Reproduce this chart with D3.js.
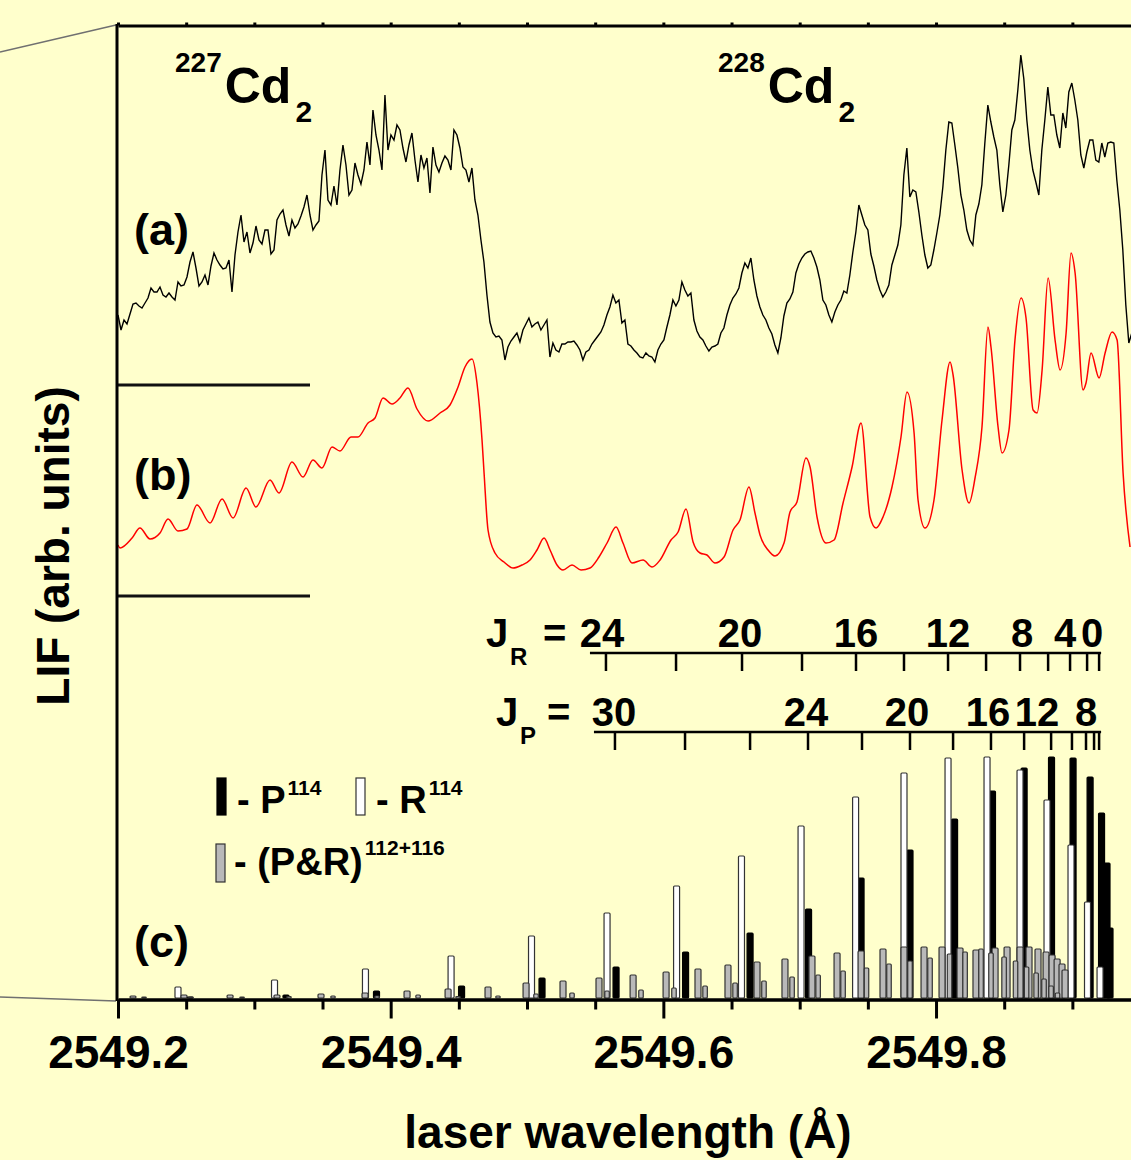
<!DOCTYPE html>
<html>
<head>
<meta charset="utf-8">
<script src="https://cdn.jsdelivr.net/npm/d3@7"></script>
<style>
  body { margin: 0; background: #ffffcc; }
  svg { display: block; font-family: "Liberation Sans", Arial, sans-serif; font-weight: bold; }
</style>
</head>
<body>
<svg id="chart" width="1131" height="1160"></svg>
<script>
// ---- data (wavelength in Å, intensities in arb. units) ----
const scanStart = 2549.2;
const scanStep = 0.0022;

// (a) measured LIF, one value per scan step, relative to its own zero line
const traceA = [
  7.0,5.5,6.5,6.1,7.1,8.1,8.2,7.9,7.7,8.2,
  8.7,9.7,9.3,9.3,9.8,9.0,8.8,9.2,8.8,8.5,
  10.3,9.9,10.0,10.8,12.3,13.3,11.7,9.9,10.3,11.0,
  10.0,11.9,13.2,12.5,12.0,11.6,11.7,12.5,9.3,13.0,
  15.3,17.0,14.3,15.3,13.2,14.2,15.9,14.5,14.1,15.5,
  15.5,13.1,13.5,16.5,17.1,17.5,16.0,14.9,16.5,15.7,
  16.1,16.9,17.8,19.0,17.0,15.5,16.0,16.4,21.0,23.5,
  18.5,18.0,19.9,18.0,21.5,24.0,22.0,19.0,19.5,22.2,
  21.0,20.1,21.5,24.3,22.0,27.5,25.0,23.5,21.5,29.0,
  23.5,25.0,24.5,26.0,25.5,23.7,22.3,24.0,25.2,22.5,
  20.3,23.0,21.7,22.7,19.2,23.8,22.0,21.3,22.2,22.9,
  22.5,21.5,25.5,25.0,23.7,21.8,21.5,20.3,21.7,18.5,
  17.0,14.5,12.3,9.0,6.3,5.2,4.8,4.9,4.5,2.5,
  3.8,4.4,4.8,5.2,4.3,5.5,6.1,6.7,5.8,6.1,
  6.3,5.5,6.0,6.5,2.8,4.2,3.5,3.3,4.1,4.1,
  4.3,4.3,4.4,4.0,3.5,2.5,3.3,3.5,4.1,4.5,
  4.9,5.3,6.0,7.0,7.8,9.0,8.2,8.5,6.2,6.5,
  4.1,3.9,3.5,3.2,2.8,2.7,3.2,2.9,2.8,2.3,
  3.5,4.1,4.5,5.8,7.0,8.5,7.9,8.5,10.3,9.5,
  8.9,9.2,6.5,5.4,4.8,4.5,3.9,3.4,3.8,3.9,
  4.1,5.2,5.7,7.0,8.0,8.7,9.1,9.7,11.2,12.2,
  11.7,12.7,10.5,8.9,7.8,7.0,6.5,5.7,5.1,4.0,
  3.2,4.7,6.9,8.2,8.6,9.3,11.2,12.1,12.7,13.1,
  13.3,13.4,12.7,11.8,10.5,8.5,8.0,7.0,6.3,7.3,
  8.0,8.5,9.4,9.2,11.0,13.3,15.3,18.0,17.0,16.0,
  15.5,13.1,11.9,10.5,9.5,8.8,9.3,10.0,12.0,13.0,
  14.0,16.0,21.0,23.7,18.8,19.5,19.3,17.3,15.0,13.0,
  11.7,12.0,13.5,15.2,17.0,19.8,23.5,26.3,26.2,24.0,
  21.7,19.0,17.5,15.5,14.5,14.0,17.0,18.1,20.0,24.2,
  28.0,26.3,24.8,23.5,20.0,17.3,19.0,22.0,25.5,26.5,
  29.5,33.0,30.6,26.5,23.5,21.5,20.3,19.0,23.5,26.5,
  29.8,27.0,27.0,25.0,23.7,27.2,25.7,29.3,30.2,28.5,
  26.5,23.0,21.7,23.3,24.5,24.5,22.5,22.3,24.2,22.8,
  24.2,24.3,24.2,20.5,17.5,13.5,8.0,4.2,5.2
];

// (b) simulated spectrum [wavelength, intensity]
const traceB = [
  [2549.2000,5.1],[2549.2015,4.8],[2549.2103,5.8],[2549.2161,6.8],[2549.2235,5.7],[2549.2308,6.3],[2549.2367,7.7],[2549.2440,6.5],[2549.2506,6.7],[2549.2579,9.1],
  [2549.2675,7.3],[2549.2763,9.7],[2549.2844,7.8],[2549.2939,10.8],[2549.3012,8.9],[2549.3115,11.6],[2549.3181,10.3],[2549.3276,13.4],[2549.3357,11.9],[2549.3430,13.6],
  [2549.3496,12.8],[2549.3570,14.9],[2549.3628,14.5],[2549.3709,15.9],[2549.3760,15.9],[2549.3834,17.3],[2549.3885,17.8],[2549.3944,19.8],[2549.4010,19.2],[2549.4068,19.8],
  [2549.4127,20.8],[2549.4193,18.7],[2549.4274,17.5],[2549.4362,18.3],[2549.4435,19.1],[2549.4494,20.9],[2549.4545,22.9],[2549.4597,23.7],[2549.4633,21.3],[2549.4670,15.6],
  [2549.4685,12.3],[2549.4714,6.6],[2549.4765,4.3],[2549.4831,3.4],[2549.4897,2.8],[2549.4963,3.1],[2549.5022,3.6],[2549.5073,4.6],[2549.5125,5.8],[2549.5169,4.6],
  [2549.5220,3.1],[2549.5264,2.6],[2549.5330,3.1],[2549.5396,2.6],[2549.5462,2.8],[2549.5528,3.9],[2549.5587,5.3],[2549.5653,6.9],[2549.5704,5.3],[2549.5770,3.3],
  [2549.5851,3.6],[2549.5917,2.9],[2549.5976,3.6],[2549.6056,5.6],[2549.6108,6.4],[2549.6166,8.7],[2549.6218,5.4],[2549.6269,4.3],[2549.6320,4.1],[2549.6379,3.3],
  [2549.6445,3.9],[2549.6511,6.6],[2549.6562,7.6],[2549.6628,10.9],[2549.6672,8.3],[2549.6709,6.1],[2549.6768,4.6],[2549.6819,4.0],[2549.6885,5.3],[2549.6929,8.4],
  [2549.6980,9.4],[2549.7046,13.8],[2549.7076,12.9],[2549.7127,7.9],[2549.7193,5.3],[2549.7252,5.6],[2549.7318,9.3],[2549.7384,12.9],[2549.7450,17.3],[2549.7516,7.9],
  [2549.7560,6.8],[2549.7611,7.9],[2549.7677,10.9],[2549.7743,15.9],[2549.7787,20.4],[2549.7839,16.3],[2549.7868,9.6],[2549.7919,6.8],[2549.7985,9.6],[2549.8044,17.6],
  [2549.8103,23.4],[2549.8125,22.1],[2549.8191,12.6],[2549.8242,9.3],[2549.8286,11.8],[2549.8337,16.9],[2549.8381,26.9],[2549.8403,24.9],[2549.8455,16.9],[2549.8484,14.3],
  [2549.8535,16.6],[2549.8579,25.6],[2549.8624,29.8],[2549.8660,27.8],[2549.8712,18.6],[2549.8741,18.3],[2549.8778,22.6],[2549.8822,31.8],[2549.8873,25.6],[2549.8910,22.6],
  [2549.8954,26.3],[2549.8990,34.3],[2549.9020,32.3],[2549.9078,20.6],[2549.9100,21.3],[2549.9137,24.3],[2549.9196,21.8],[2549.9240,24.3],[2549.9291,26.4],[2549.9328,25.6],
  [2549.9372,12.3],[2549.9423,4.9]
];

// (c) stick spectrum [wavelength, intensity]
const pLines114 = [
  [2549.2528,0.1],[2549.3232,0.3],[2549.3896,0.7],[2549.4520,1.2],[2549.5110,2.0],[2549.5653,3.1],[2549.6163,4.6],[2549.6636,6.5],[2549.7065,8.9],[2549.7450,12.0],
  [2549.7809,14.8],[2549.8136,17.9],[2549.8414,20.7],[2549.8646,23.0],[2549.8847,24.1],[2549.9005,24.0],[2549.9130,22.1],[2549.9214,18.5],[2549.9254,13.5],[2549.9276,7.0]
];
const rLines114 = [
  [2549.2440,1.1],[2549.3148,1.8],[2549.3815,2.9],[2549.4443,4.2],[2549.5033,6.2],[2549.5587,8.5],[2549.6097,11.2],[2549.6573,14.2],[2549.7010,17.2],[2549.7410,20.1],
  [2549.7765,22.5],[2549.8088,24.0],[2549.8374,24.1],[2549.8616,22.8],[2549.8814,19.8],[2549.8990,15.3],[2549.9111,9.6],[2549.9203,3.1]
];
const lines112 = [
  [2549.2110,0.2],[2549.2484,0.3],[2549.2822,0.3],[2549.3166,0.3],[2549.3489,0.4],[2549.3812,0.5],[2549.4120,0.7],[2549.4421,0.9],[2549.4714,1.1],[2549.4993,1.5],
  [2549.5264,1.7],[2549.5528,2.0],[2549.5778,2.3],[2549.6020,2.6],[2549.6254,2.9],[2549.6474,3.3],[2549.6687,3.6],[2549.6892,3.9],[2549.7090,4.2],[2549.7274,4.5],
  [2549.7450,4.7],[2549.7611,4.9],[2549.7765,5.1],[2549.7912,5.1],[2549.8044,5.1],[2549.8176,5.0],[2549.8293,4.8],[2549.8433,5.0],[2549.8521,5.1],[2549.8616,5.1],
  [2549.8682,5.1],[2549.8748,4.9],[2549.8807,4.6],[2549.8851,4.3],[2549.8888,3.9],[2549.8924,3.4],[2549.8946,2.8]
];
const lines116 = [
  [2549.2191,0.1],[2549.2535,0.1],[2549.2910,0.1],[2549.3254,0.15],[2549.3577,0.2],[2549.3900,0.2],[2549.4201,0.3],[2549.4494,0.15],[2549.4787,0.2],[2549.5066,0.4],
  [2549.5330,0.5],[2549.5587,0.7],[2549.5836,0.8],[2549.6078,1.0],[2549.6306,1.2],[2549.6526,1.5],[2549.6738,1.7],[2549.6944,2.1],[2549.7135,2.3],[2549.7318,2.7],
  [2549.7490,3.0],[2549.7655,3.4],[2549.7809,3.7],[2549.7956,4.0],[2549.8099,4.4],[2549.8213,4.6],[2549.8330,4.9],[2549.8403,4.5],[2549.8499,4.1],[2549.8583,3.7],
  [2549.8664,3.1],[2549.8734,2.5],[2549.8792,1.9],[2549.8844,1.2],[2549.8891,0.5]
];

// rotational assignment scales
const jR = [24,22,20,18,16,14,12,10,8,6,4,2,0];
const jRWave = [2549.5579,2549.6093,2549.6577,2549.7017,2549.7413,2549.7765,2549.8088,2549.8367,2549.8616,2549.8822,2549.8983,2549.9108,2549.9196];
const jRLabeled = [24,20,16,12,8,4,0];
const jP = [30,28,26,24,22,20,18,16,14,12,10,8,6,4];
const jPWave = [2549.5645,2549.6159,2549.6636,2549.7061,2549.7457,2549.7809,2549.8125,2549.8403,2549.8646,2549.8844,2549.8997,2549.9100,2549.9159,2549.9196];
const jPLabeled = [30,24,20,16,12,8];

const xMajor = [2549.2, 2549.4, 2549.6, 2549.8];
const xMinor = [2549.25, 2549.3, 2549.35, 2549.45, 2549.5, 2549.55, 2549.65, 2549.7, 2549.75, 2549.85, 2549.9];

// ---- layout ----
const offsetA = 61.3;   // zero line of trace (a)
const offsetB = 40.2;   // zero line of trace (b)
const svg = d3.select("#chart");
const x = d3.scaleLinear().domain([2549.2, 2549.943]).range([118, 1131]);
const y = d3.scaleLinear().domain([0, 97.3]).range([998, 25]);
const x0 = x.range()[0];

svg.append("rect").attr("width", 1131).attr("height", 1160).attr("fill", "#ffffcc");

// zoom lines towards the (cut) inset on the left
svg.append("line").attr("x1", 0).attr("y1", 52).attr("x2", x0 - 2).attr("y2", 25)
  .attr("stroke", "#707070").attr("stroke-width", 1.5);
svg.append("line").attr("x1", 0).attr("y1", 997).attr("x2", x0 - 2).attr("y2", 1001)
  .attr("stroke", "#707070").attr("stroke-width", 1.5);

// stick spectrum (c)
function sticks(data, w, fill, stroke) {
  svg.append("g").selectAll("rect").data(data).join("rect")
    .attr("x", d => x(d[0]) - w / 2)
    .attr("y", d => y(d[1]))
    .attr("width", w)
    .attr("height", d => y(0) - y(d[1]))
    .attr("rx", 1)
    .attr("fill", fill)
    .attr("stroke", stroke)
    .attr("stroke-width", 1.2);
}
sticks(pLines114, 6, "#000", "#000");
sticks(rLines114, 6, "#fff", "#333");
sticks(lines112, 6, "#b9b9b9", "#333");
sticks(lines116, 4.5, "#b9b9b9", "#333");

// traces
svg.append("path").datum(traceA)
  .attr("fill", "none").attr("stroke", "#000").attr("stroke-width", 1.4)
  .attr("d", d3.line().x((d, i) => x(scanStart + i * scanStep)).y(d => y(offsetA + d)));

svg.append("path").datum(traceB)
  .attr("fill", "none").attr("stroke", "#ff0000").attr("stroke-width", 1.5)
  .attr("d", d3.line().curve(d3.curveMonotoneX).x(d => x(d[0])).y(d => y(offsetB + d[1])));

// zero lines of (a) and (b)
[offsetA, offsetB].forEach(o => {
  svg.append("line").attr("x1", x0).attr("x2", x0 + 192)
    .attr("y1", y(o)).attr("y2", y(o))
    .attr("stroke", "#111").attr("stroke-width", 3);
});

// frame
svg.append("line").attr("x1", x0 - 1).attr("x2", x0 - 1).attr("y1", 24).attr("y2", 1001)
  .attr("stroke", "#000").attr("stroke-width", 3);

const topAxis = svg.append("g").attr("transform", "translate(0,25.5)")
  .call(d3.axisTop(x).tickValues(xMajor.concat(xMinor)).tickSize(3).tickSizeOuter(0).tickFormat(""));
topAxis.selectAll("path, line").attr("stroke-width", 3);

const minorAxis = svg.append("g").attr("transform", "translate(0,999.5)")
  .call(d3.axisBottom(x).tickValues(xMinor).tickSize(10).tickSizeOuter(0).tickFormat(""));
minorAxis.selectAll("path, line").attr("stroke-width", 3);

const majorAxis = svg.append("g").attr("transform", "translate(0,999.5)")
  .call(d3.axisBottom(x).tickValues(xMajor).tickSize(19).tickSizeOuter(0).tickFormat(d3.format(".1f")));
majorAxis.attr("font-family", null).attr("font-size", 46).attr("font-weight", "bold");
majorAxis.selectAll("path, line").attr("stroke-width", 3);
majorAxis.selectAll("text").attr("y", 68.5).attr("dy", null).attr("fill", "#000");

// axis titles
svg.append("text").attr("x", 628).attr("y", 1148).attr("text-anchor", "middle")
  .attr("font-size", 46).text("laser wavelength (Å)");
svg.append("text").attr("transform", "translate(69,546) rotate(-90)").attr("text-anchor", "middle")
  .attr("font-size", 46).text("LIF (arb. units)");

// isotopologue titles
function isoTitle(xp, mass) {
  const t = svg.append("text").attr("x", xp).attr("y", 72).attr("font-size", 28);
  t.append("tspan").text(mass);
  t.append("tspan").attr("font-size", 50).attr("dx", 3).attr("dy", 31).text("Cd");
  t.append("tspan").attr("font-size", 30).attr("dx", 4).attr("dy", 19).text("2");
}
isoTitle(175, "227");
isoTitle(718, "228");

// panel letters
[["(a)", 245], ["(b)", 490], ["(c)", 957]].forEach(([s, yy]) => {
  svg.append("text").attr("x", 134).attr("y", yy).attr("font-size", 45).text(s);
});

// J scales
function jScale(vals, waves, labeled, lineY, sub, shift, lead) {
  const g = svg.append("g");
  g.append("line").attr("x1", x(waves[0]) - lead).attr("x2", x(waves[waves.length - 1]) + 2)
    .attr("y1", lineY).attr("y2", lineY).attr("stroke", "#000").attr("stroke-width", 2.5);
  g.selectAll("line.t").data(waves).join("line").attr("class", "t")
    .attr("x1", d => x(d)).attr("x2", d => x(d))
    .attr("y1", lineY).attr("y2", lineY + 18)
    .attr("stroke", "#000").attr("stroke-width", 2.5);
  g.selectAll("text.l").data(labeled).join("text").attr("class", "l")
    .attr("x", d => x(waves[vals.indexOf(d)]) + (shift[d] || 0))
    .attr("y", lineY - 6).attr("text-anchor", "middle").attr("font-size", 40)
    .text(d => d);
  return g;
}
jScale(jR, jRWave, jRLabeled, 653, "R", {24: -4, 20: -2, 8: 2, 4: -5, 0: -7}, 16);
jScale(jP, jPWave, jPLabeled, 732, "P", {12: -14, 30: -1, 24: -2, 20: -3, 16: -3}, 21);

function jHead(xJ, base, sub, xEq) {
  svg.append("text").attr("x", xJ).attr("y", base).attr("font-size", 40).text("J");
  svg.append("text").attr("x", xJ + 24).attr("y", base + 18).attr("font-size", 24).text(sub);
  svg.append("text").attr("x", xEq).attr("y", base).attr("font-size", 40).text("=");
}
jHead(486, 647, "R", 543);
jHead(496, 726, "P", 547);

// legend
function legendItem(bx, by, bh, fill, tx, ty, main, sup, supDy) {
  svg.append("rect").attr("x", bx).attr("y", by).attr("width", 9).attr("height", bh)
    .attr("fill", fill).attr("stroke", fill === "#000" ? "#000" : "#333").attr("stroke-width", 1.2);
  const t = svg.append("text").attr("x", tx).attr("y", ty).attr("font-size", 38);
  t.append("tspan").text(main);
  t.append("tspan").attr("font-size", 21).attr("dx", 2).attr("dy", supDy).text(sup);
}
legendItem(217, 778, 37, "#000", 237, 813, "- P", "114", -18);
legendItem(356, 778, 37, "#fff", 376, 813, "- R", "114", -18);
legendItem(216, 844, 38, "#b9b9b9", 234, 875, "- (P&R)", "112+116", -20);
</script>
</body>
</html>
